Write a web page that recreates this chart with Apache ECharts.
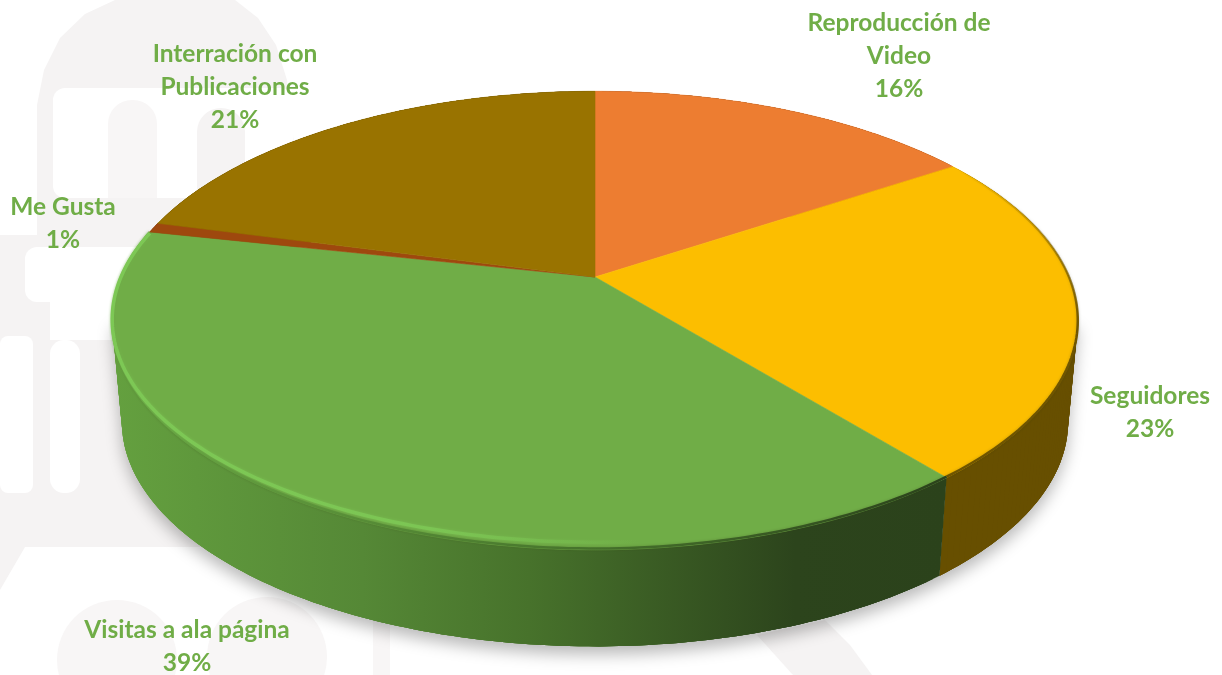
<!DOCTYPE html>
<html><head><meta charset="utf-8">
<style>html,body{margin:0;padding:0;background:#fff}#c{width:1222px;height:675px}</style>
<script src="https://cdn.jsdelivr.net/npm/echarts@6/dist/echarts.min.js"></script>
</head><body><div id="c"></div>
<script>
const categories = ['Reproducción de\nVideo', 'Seguidores', 'Visitas a ala página', 'Me Gusta', 'Interración con\nPublicaciones'];
const values = [15.7, 23.4, 39.3, 0.7, 20.9];
const topColors = ['#ed7d31', '#fcbe00', '#70ad47', '#9e480e', '#997300'];
const labelCenters = [[899, 56], [1150, 413], [187, 647], [63, 224], [235, 87]];

const total = values.reduce((a, b) => a + b, 0);
const APEX = [595, 277], K = 0.19, A = 221, B = 474, DEPTH = 102, BASE_SCALE = 0.98;

function startFrac(i) { let s = 0; for (let j = 0; j < i; j++) s += values[j]; return s / total; }
function topPt(f, yScale) {
  const a = f * 2 * Math.PI, u = Math.sin(a), v = -Math.cos(a), w = 1 - K * v;
  return [APEX[0] + B * u / w, APEX[1] + (yScale || 1) * A * v / w];
}
function basePt(f) {
  const p = topPt(f);
  return [APEX[0] + BASE_SCALE * (p[0] - APEX[0]), APEX[1] + DEPTH + BASE_SCALE * (p[1] - APEX[1])];
}
function arc(f0, f1, fn, yScale) {
  const n = Math.max(2, Math.ceil((f1 - f0) * 360)), pts = [];
  for (let i = 0; i <= n; i++) pts.push(fn(f0 + (f1 - f0) * i / n, yScale));
  return pts;
}
const LG = (x0, y0, x1, y1, st) => new echarts.graphic.LinearGradient(x0, y0, x1, y1, st, true);
const wallFills = [
  '#8a4a1c', '#674f00',
  LG(113, 0, 945, 0, [
    { offset: 0, color: '#64a03f' }, { offset: 0.3, color: '#558836' },
    { offset: 0.5, color: '#47722b' }, { offset: 0.82, color: '#2c441c' }, { offset: 1, color: '#2b421b' }]),
  '#5e2b08', '#5c4500'
];
const rimColors = [
  'rgba(0,0,0,0)',
  LG(0, 170, 0, 330, [{ offset: 0, color: 'rgba(111,85,0,0)' }, { offset: 0.5, color: 'rgba(111,85,0,0.5)' }, { offset: 1, color: '#6f5500' }]),
  LG(113, 0, 945, 0, [
    { offset: 0, color: '#6aa844' }, { offset: 0.5, color: '#4a7a2e' }, { offset: 1, color: '#2b421b' }]),
  'rgba(0,0,0,0)', 'rgba(0,0,0,0)'
];
const FR = Math.acos(-K) / (2 * Math.PI);

function renderShadow() {
  return {
    type: 'polygon', silent: true,
    shape: { points: [topPt(FR)].concat(arc(FR, 1 - FR, basePt), [topPt(1 - FR)]) },
    style: { fill: '#fff', shadowBlur: 16, shadowColor: 'rgba(0,0,0,0.28)', shadowOffsetY: 8 }
  };
}
function renderWall(params, api) {
  const i = params.dataIndex, f0 = startFrac(i), f1 = f0 + api.value(0) / total;
  const t = arc(f0, f1, topPt), b = arc(f0, f1, basePt), children = [];
  const OVERLAP = 4;
  for (let s = 0; s < t.length - 1; s++) {
    const e = Math.min(s + OVERLAP, t.length - 1);
    const pts = t.slice(s, e + 1).concat(b.slice(s, e + 1).reverse());
    children.push({ type: 'polygon', shape: { points: pts }, style: { fill: wallFills[i] } });
  }
  return { type: 'group', silent: true, children };
}
function renderTop(params, api) {
  const i = params.dataIndex, f0 = startFrac(i), f1 = f0 + api.value(0) / total;
  const children = [
    { type: 'polygon', shape: { points: [APEX].concat(arc(f0, f1, topPt)) },
      style: { fill: topColors[i], stroke: topColors[i], lineWidth: 0.6 } },
    { type: 'polyline', shape: { points: arc(f0, f1, topPt, 0.995) },
      style: { fill: 'none', stroke: rimColors[i], lineWidth: 2.5, shadowBlur: 3, shadowColor: i === 1 || i === 2 ? 'rgba(40,45,10,0.25)' : 'rgba(0,0,0,0)' } }
  ];
  if (i === 2) {
    children.push({
      type: 'polyline', shape: { points: arc(f0, f1, topPt, 0.972) },
      style: {
        fill: 'none', lineWidth: 3.5, shadowBlur: 3, shadowColor: 'rgba(130,205,90,0.5)',
        stroke: LG(113, 0, 640, 0, [
          { offset: 0, color: 'rgba(125,200,85,1)' }, { offset: 0.6, color: 'rgba(125,200,85,0.85)' },
          { offset: 1, color: 'rgba(125,200,85,0)' }])
      }
    });
  }
  return { type: 'group', silent: true, children };
}
function renderLabel(params, api) {
  const i = params.dataIndex, pct = Math.round(api.value(0) / total * 100);
  return {
    type: 'text', silent: true,
    style: {
      text: categories[i] + '\n' + pct + '%',
      x: labelCenters[i][0], y: labelCenters[i][1],
      align: 'center', verticalAlign: 'middle',
      font: 'bold 24.5px Lato', lineHeight: 33, fill: '#70ad47'
    }
  };
}

const WM = '#f5f3f3', WM2 = '#f8f6f6';
const poly = (points, z) => ({ type: 'polygon', shape: { points }, style: { fill: WM }, silent: true, z: z || 0 });
const cut = (x, y, w, h, r) => ({ type: 'rect', shape: { x, y, width: w, height: h, r }, style: { fill: '#fff' }, silent: true, z: 1 });
const grey = (x, y, w, h, r, c) => ({ type: 'rect', shape: { x, y, width: w, height: h, r }, style: { fill: c || WM }, silent: true, z: 2 });
const circ = (cx, cy, r) => ({ type: 'circle', shape: { cx, cy, r }, style: { fill: WM2 }, silent: true, z: 2 });
const graphicEls = [
  poly([[37, 235], [37, 105], [44, 70], [60, 38], [85, 14], [115, 0], [235, 0], [258, 18], [276, 45], [287, 80], [300, 200], [300, 247], [0, 247], [0, 235]]),
  poly([[0, 247], [160, 247], [120, 300], [120, 500], [0, 500]]),
  poly([[0, 493], [220, 493], [260, 547], [25, 547], [0, 590]]),
  cut(53, 88, 240, 110, 12),
  cut(25, 247, 140, 55, 12),
  cut(50, 295, 90, 45, 0),
  cut(50, 340, 30, 153, 14),
  cut(0, 336, 33, 157, 8),
  grey(108, 100, 49, 98, [24, 24, 0, 0], WM2),
  grey(197, 108, 48, 90, [24, 24, 0, 0]),
  grey(80, 340, 120, 153, [14, 0, 0, 0]),
  circ(117, 660, 60),
  circ(267, 657, 60),
  grey(373, 600, 17, 75, 0, WM2),
  poly([[757, 635], [825, 620], [850, 645], [872, 675], [793, 675]], 2)
];

const chart = echarts.init(document.getElementById('c'), null, { renderer: 'canvas' });
chart.setOption({
  animation: false,
  backgroundColor: '#fff',
  graphic: { elements: graphicEls },
  series: [
    { type: 'custom', coordinateSystem: 'none', z: 3, data: [0], renderItem: renderShadow },
    { type: 'custom', coordinateSystem: 'none', z: 4, data: values, renderItem: renderWall },
    { type: 'custom', coordinateSystem: 'none', z: 5, data: values, renderItem: renderTop },
    { type: 'custom', coordinateSystem: 'none', z: 6, data: values, renderItem: renderLabel }
  ]
});
</script></body></html>
